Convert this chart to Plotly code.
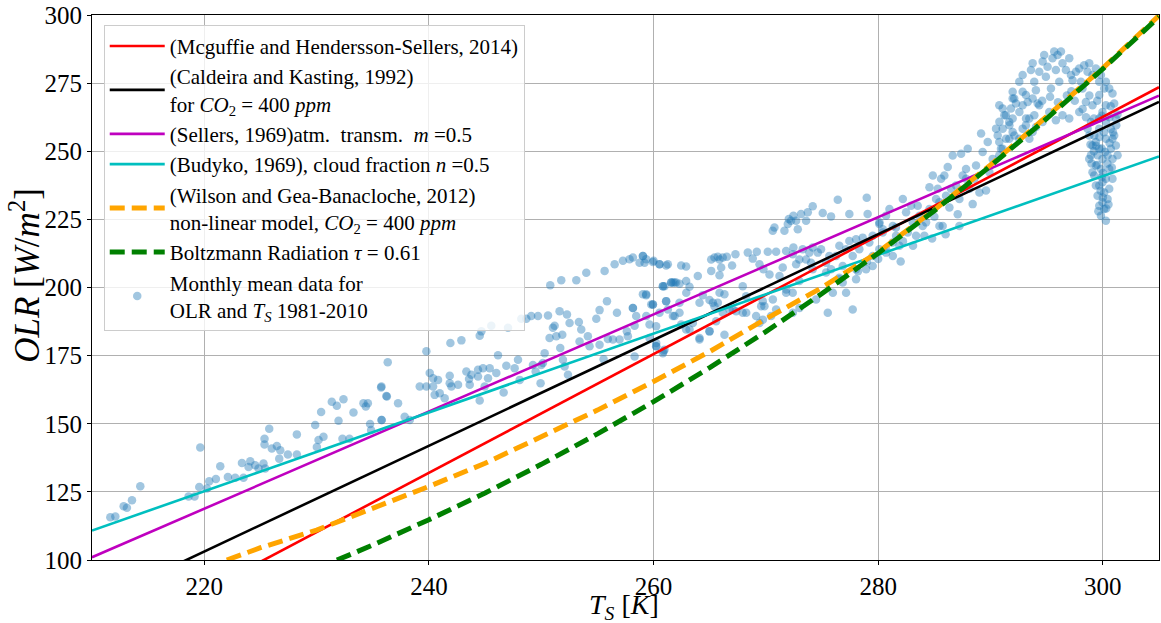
import plotly.graph_objects as go

# ---------------- data ----------------
# Observed monthly mean data (surface temperature K, OLR W/m^2)
T_data = [
211.63,212.08,212.82,213.11,213.56,214.30,218.60,219.13,219.55,220.23,219.64,220.44,221.03,221.42,222.10,222.75,223.49,223.35,223.94,224.09,
224.53,224.83,225.27,225.42,225.36,225.36,225.78,226.01,226.46,226.76,226.67,227.44,228.24,228.24,229.87,230.02,230.17,230.61,230.40,231.35,
231.80,231.95,232.39,232.30,232.92,233.28,234.17,234.56,234.38,234.76,234.85,235.80,235.74,236.25,236.33,
235.77,236.21,237.25,235.77,237.84,238.29,239.18,239.77,240.07,239.77,240.37,240.37,240.51,240.81,240.96,241.40,241.85,241.85,242.00,242.59,
241.91,242.89,243.33,243.57,243.63,243.78,244.37,244.37,244.52,244.52,244.67,244.81,244.96,245.26,245.41,245.55,246.00,246.15,246.65,246.89,
247.04,247.63,247.93,248.08,248.22,248.67,249.11,249.26,249.50,249.71,249.94,250.00,250.15,250.30,250.60,250.74,250.80,251.04,251.19,251.34,
251.63,251.69,251.78,251.87,251.93,252.08,252.29,252.38,252.52,253.12,253.41,253.35,253.56,254.01,254.15,254.30,254.90,255.19,255.19,255.55,
255.64,255.85,255.93,256.38,256.53,256.74,256.97,257.27,257.62,257.71,257.86,258.16,258.16,258.31,258.31,258.45,259.05,259.20,259.34,259.64,
259.79,260.00,260.24,260.53,260.83,260.89,261.12,261.27,261.57,261.87,261.87,
259.05,259.34,258.75,259.94,260.53,261.12,262.46,262.90,259.34,259.94,260.97,261.57,262.01,262.31,262.90,263.20,263.94,264.38,264.98,265.13,
265.42,265.72,265.87,266.02,266.31,265.13,265.42,265.72,265.87,266.16,266.52,266.99,267.29,267.94,268.24,268.39,268.83,269.19,269.43,269.78,
270.17,270.32,270.61,270.76,270.91,271.21,271.50,271.65,271.80,271.95,272.04,272.24,272.45,272.69,272.84,273.13,273.58,273.73,274.17,275.06,
275.80,276.40,277.43,278.98,279.06,272.39,272.45,272.69,272.98,273.28,273.58,273.87,274.02,274.17,274.62,274.91,275.36,275.65,275.80,276.25,
276.54,276.84,277.14,277.43,277.73,278.03,278.32,278.62,279.21,279.51,280.10,280.40,280.70,281.29,281.58,279.51,280.10,278.03,274.17,275.36,
276.54,276.84,271.80,272.39,272.98,269.72,269.87,269.13,270.46,270.91,269.43,267.94,267.35,266.76,266.16,265.57,264.98,266.31,264.09,263.50,
262.90,262.31,261.72,261.27,261.12,260.53,260.23,259.64,260.97,260.23,262.31,
259.05,259.94,258.16,259.35,260.83,261.72,262.91,264.09,262.46,263.20,264.98,264.09,260.83,260.24,265.28,265.87,267.06,268.25,269.58,269.73,
270.62,271.81,272.40,272.99,274.47,275.51,275.96,277.14,277.73,276.55,278.03,278.92,279.51,
280.11,280.41,280.70,281.00,281.30,281.59,281.89,282.19,282.48,282.63,282.93,283.08,283.37,283.52,283.67,284.11,284.26,284.56,284.56,284.86,
285.15,285.30,285.45,285.60,285.74,286.04,286.19,286.34,286.63,286.93,287.08,287.23,287.38,287.52,287.82,287.97,288.12,288.41,288.56,288.71,
289.01,289.16,289.30,289.60,289.75,289.90,290.19,290.49,290.64,290.79,290.93,291.23,291.38,291.68,291.82,291.97,291.97,292.12,292.27,292.57,
292.86,292.86,293.16,293.31,293.46,293.75,293.90,294.05,294.20,287.23,285.45,287.82,286.49,285.89,
280.70,281.30,282.20,283.10,283.96,282.00,280.00,284.80,286.00,285.00,279.00,278.20,
290.78,291.08,291.37,291.67,291.97,292.11,292.56,292.86,292.86,293.15,293.60,293.75,293.89,294.04,294.34,294.34,294.64,294.78,294.93,295.08,
295.38,295.52,295.67,295.82,295.97,296.12,296.27,296.41,296.71,297.01,297.16,297.30,297.60,297.90,298.05,298.19,298.34,298.64,298.79,299.08,
299.38,299.68,299.83,300.12,300.27,300.57,300.86,301.01,301.16,301.01,301.16,301.31,300.86,
291.08,291.67,291.97,292.56,293.15,293.45,293.75,294.64,295.23,295.82,296.41,297.01,297.90,298.49,299.08,299.68,299.97,300.27,299.68,
298.79,299.08,298.94,299.38,299.23,299.68,299.53,299.97,300.12,300.27,299.83,300.27,300.57,300.42,299.68,299.97,299.38,298.64,298.94,299.68,
300.27,300.71,300.86,300.57,300.86,300.12,299.83,299.38,299.08,298.79,300.42,300.71,299.68,299.97,299.53,299.23,300.27,
290.78,291.08,290.78,
299.50,300.00,300.40,299.90,300.60,299.20,300.10,299.00,300.80,299.80,300.30,299.90,300.50,299.60,300.00,299.40,300.20,299.70,300.90,298.90,
298.50,299.20,299.90,300.60,301.20,298.20,297.50,296.80,296.00,295.30,294.60,297.20,298.80,299.50,300.70,301.30,
]
OLR_data = [
115.7,116.0,119.7,119.2,121.9,127.1,123.3,123.3,126.8,126.2,141.3,128.9,129.7,134.4,130.5,130.2,130.2,135.6,134.1,136.2,
134.8,133.6,135.4,133.6,142.4,144.5,148.2,140.9,141.8,140.3,137.2,138.7,138.7,146.1,149.5,141.5,144.0,145.2,154.3,158.1,
156.6,151.1,159.0,144.5,144.5,154.1,157.5,157.5,156.3,149.9,147.7,151.4,163.3,160.0,172.6,
163.7,160.2,157.5,151.4,152.6,151.4,163.7,163.7,168.6,176.6,166.7,163.7,160.6,166.1,161.2,159.4,167.6,164.9,163.7,164.3,
179.6,180.6,169.2,166.4,164.3,168.0,169.8,167.3,182.3,158.5,183.9,170.4,163.7,166.7,170.4,186.0,168.6,175.1,161.5,171.3,
185.2,170.4,173.5,166.1,188.5,188.5,189.5,171.6,169.2,189.5,164.9,171.6,172.3,175.9,189.7,181.5,200.8,185.2,186.0,182.1,
191.3,177.8,202.7,182.7,173.5,171.0,190.1,168.0,187.0,202.7,180.2,187.3,184.6,205.4,182.1,178.4,188.5,191.7,179.0,173.7,
206.1,195.0,181.1,180.9,208.5,190.7,180.9,209.8,183.9,182.1,210.4,192.5,211.0,186.0,174.7,189.5,211.6,209.1,197.5,181.5,
193.8,209.8,178.4,208.5,200.5,176.6,195.0,208.5,201.8,201.8,189.5,
211.6,210.4,209.1,209.4,208.5,208.1,208.1,207.7,197.2,193.8,200.5,201.8,201.8,201.4,202.4,200.3,204.2,197.2,195.4,206.1,
193.1,194.4,204.5,207.3,197.5,210.3,211.0,211.3,210.3,211.0,211.3,208.1,212.2,200.5,196.8,212.8,210.6,213.1,208.5,206.7,
213.1,204.8,220.8,222.0,213.1,204.2,207.3,220.8,213.4,223.3,225.1,224.5,226.3,224.5,221.4,227.0,224.5,227.6,229.8,227.3,
226.1,232.2,227.0,232.9,227.0,212.2,214.7,208.5,210.3,214.0,210.3,212.8,209.1,214.7,212.8,214.0,209.1,211.6,206.7,211.6,
215.3,207.9,214.0,217.1,211.6,217.7,214.0,218.3,216.5,219.0,223.3,220.2,212.8,216.5,222.0,211.6,214.0,206.7,206.7,205.5,
203.6,201.8,198.1,198.1,202.4,195.0,193.1,189.5,189.5,191.9,187.0,190.7,191.3,191.9,190.7,187.6,183.9,182.7,181.5,187.0,
184.6,190.7,189.5,191.9,195.0,190.7,185.8,186.4,177.2,178.4,194.4,
197.5,193.8,192.5,189.5,200.5,201.8,198.1,194.4,186.4,184.6,183.9,180.9,175.9,179.6,194.4,198.1,191.9,190.7,193.1,188.2,
195.6,199.3,190.7,192.5,195.6,190.7,198.1,198.1,191.9,203.0,203.0,206.7,207.9,
223.9,221.4,226.3,228.8,222.6,219.0,215.3,232.5,227.6,220.2,230.0,223.9,219.0,230.0,226.3,219.0,223.9,236.8,228.8,241.1,
232.5,236.2,231.3,239.9,222.6,233.7,244.2,229.4,248.4,237.4,226.9,232.5,249.1,241.1,243.5,250.9,236.2,230.6,239.9,244.8,
234.9,256.5,249.7,235.6,253.4,242.3,247.2,258.3,255.8,260.8,250.9,263.2,254.6,259.5,265.7,269.4,262.0,255.8,267.5,264.4,
271.8,258.3,262.0,268.1,254.6,269.4,263.2,258.9,267.5,222.6,222.6,239.9,236.2,241.1,
214.0,211.6,217.0,215.3,222.6,209.5,210.5,218.0,219.5,226.0,209.5,206.0,
266.9,265.7,263.2,260.7,271.8,269.4,275.5,278.0,266.9,270.6,279.8,282.3,275.5,272.4,279.2,266.9,282.9,285.3,277.3,281.0,
273.0,284.1,286.6,279.8,285.3,275.5,286.6,282.3,279.8,284.1,278.0,276.1,279.2,280.4,275.5,273.0,281.6,279.2,282.3,278.0,
280.4,275.5,278.0,273.0,275.5,273.0,271.2,267.5,262.0,255.8,252.1,248.5,254.6,
258.3,254.6,257.1,254.6,259.5,262.0,257.1,260.7,264.4,261.4,263.2,262.0,264.4,268.1,266.9,262.0,264.4,266.9,270.6,
255.8,252.1,248.5,244.8,241.1,237.4,233.7,231.3,228.8,224.5,243.5,239.9,236.2,232.5,250.9,247.2,253.4,258.3,260.7,258.3,
254.6,250.9,247.2,243.5,239.9,234.9,226.3,237.4,242.3,247.2,248.5,258.3,230.0,238.6,248.5,255.8,260.7,
253.4,250.9,248.5,
245.0,242.0,245.5,251.0,253.0,250.0,257.0,245.5,244.0,235.5,229.0,240.5,230.5,228.0,233.0,252.0,249.7,255.2,257.0,252.5,
262.5,262.0,263.0,262.5,259.5,265.5,268.5,270.5,268.0,270.0,268.5,272.0,270.5,268.5,266.5,263.5,
]

# Model curves
T_line = [210, 305]
OLR_mcguffie = [66.7, 273.5]
OLR_caldeira = [83.7, 268.1]
OLR_sellers = [101.0, 270.4]
OLR_budyko = [110.8, 248.1]

T_wilson = [222, 225, 230, 235, 240, 245, 250, 255, 260, 265, 270, 275, 280, 285, 290, 295, 300, 305]
OLR_wilson = [100.0, 104.5, 111.0, 119.0, 127.0, 135.5, 145.0, 155.0, 165.5, 176.5, 188.5, 200.0, 213.0, 228.5, 245.0, 262.5, 280.5, 299.8]

T_boltz = [230, 235, 240, 245, 250, 255, 260, 265, 270, 275, 280, 285, 290, 295, 300, 305]
OLR_boltz = [96.8, 105.5, 114.8, 124.6, 135.1, 146.3, 158.1, 170.6, 183.8, 197.8, 212.6, 228.2, 244.6, 262.0, 280.2, 299.3]

x_ticks = [220, 240, 260, 280, 300]
y_ticks = [100, 125, 150, 175, 200, 225, 250, 275, 300]

# ---------------- figure ----------------
FONT = "Liberation Serif, Times New Roman, DejaVu Serif, serif"
fig = go.Figure()

fig.add_trace(go.Scatter(
    x=T_data, y=OLR_data, mode="markers",
    marker=dict(color="#1f77b4", size=8.5, opacity=0.42, line=dict(width=0)),
    name="Monthly mean data for<br>OLR and <i>T<sub>S</sub></i> 1981-2010",
    legendrank=7, legendgroup="g7"))

fig.add_trace(go.Scatter(x=T_line, y=OLR_mcguffie, mode="lines",
    line=dict(color="#ff0000", width=2.6),
    name="(Mcguffie and Hendersson-Sellers, 2014)", legendrank=1, legendgroup="g1"))
fig.add_trace(go.Scatter(x=T_line, y=OLR_caldeira, mode="lines",
    line=dict(color="#000000", width=2.6),
    name="(Caldeira and Kasting, 1992)<br>for <i>CO</i><sub>2</sub> = 400 <i>ppm</i>",
    legendrank=2, legendgroup="g2"))
fig.add_trace(go.Scatter(x=T_line, y=OLR_sellers, mode="lines",
    line=dict(color="#bf00bf", width=2.6),
    name="(Sellers, 1969)atm.  transm.  <i>m</i> =0.5", legendrank=3, legendgroup="g3"))
fig.add_trace(go.Scatter(x=T_line, y=OLR_budyko, mode="lines",
    line=dict(color="#00bfbf", width=2.6),
    name="(Budyko, 1969), cloud fraction <i>n</i> =0.5", legendrank=4, legendgroup="g4"))
fig.add_trace(go.Scatter(x=T_wilson, y=OLR_wilson, mode="lines",
    line=dict(color="#ffa500", width=5, dash="15px,7px"),
    name="(Wilson and Gea-Banacloche, 2012)<br>non-linear model, <i>CO</i><sub>2</sub> = 400 <i>ppm</i>",
    legendrank=5, legendgroup="g5"))
fig.add_trace(go.Scatter(x=T_boltz, y=OLR_boltz, mode="lines",
    line=dict(color="#008000", width=5, dash="15px,7px"),
    name="Boltzmann Radiation <i>τ</i> = 0.61", legendrank=6, legendgroup="g6"))

axis_common = dict(
    showgrid=True, gridcolor="#b0b0b0", gridwidth=1,
    showline=True, linecolor="#000000", linewidth=1, mirror=True,
    ticks="outside", ticklen=4, tickcolor="#000000",
    tickfont=dict(family=FONT, size=25, color="#000000"),
    zeroline=False, automargin=False,
)

fig.update_xaxes(range=[210, 305], tickvals=x_ticks, **axis_common)
fig.update_yaxes(range=[100, 300], tickvals=y_ticks, **axis_common)

# axis titles placed as annotations for precise positioning
fig.add_annotation(text="<i>T<sub>S</sub></i> [<i>K</i>]", xref="paper", yref="paper",
                   x=0.4985, y=-0.0855, xanchor="center", yanchor="middle", showarrow=False,
                   font=dict(family=FONT, size=28, color="#000"))
fig.add_annotation(text="<i>OLR</i> [<i>W</i>/<i>m</i><sup>2</sup>]", xref="paper", yref="paper",
                   x=-0.0625, y=0.522, xanchor="center", yanchor="middle", showarrow=False,
                   textangle=-90, font=dict(family=FONT, size=35, color="#000"))

fig.update_layout(
    width=1161, height=623,
    margin=dict(l=92, r=2, t=15, b=63, pad=0),
    plot_bgcolor="white", paper_bgcolor="white",
    font=dict(family=FONT, color="#000"),
    showlegend=True,
    legend=dict(
        x=0.011, y=0.982, xanchor="left", yanchor="top",
        bgcolor="rgba(255,255,255,0.8)", bordercolor="#cccccc", borderwidth=1,
        font=dict(family=FONT, size=21, color="#000"),
        itemwidth=55, tracegroupgap=4, traceorder="normal",
    ),
)

fig.write_html("out.html")
